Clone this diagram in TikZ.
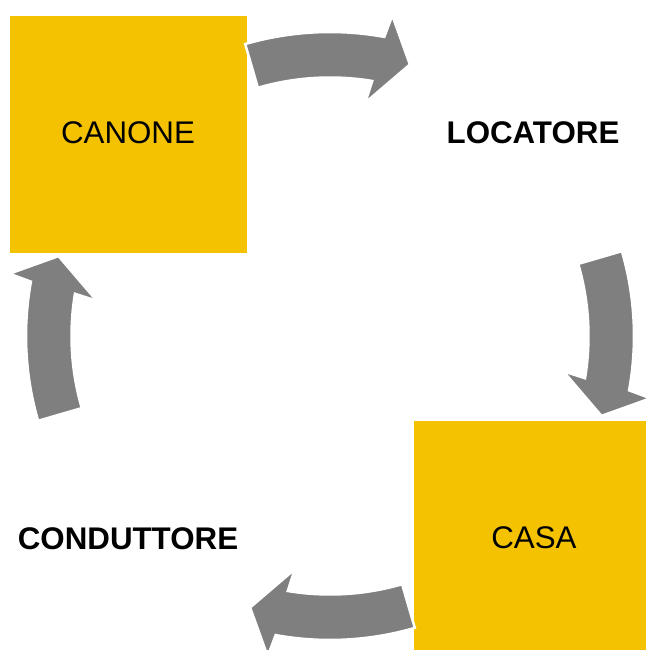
\documentclass[tikz,border=0pt]{standalone}
\usepackage{fontspec}
\setmainfont{Liberation Sans}
\definecolor{boxyellow}{HTML}{F4C200}
\definecolor{arrowgray}{HTML}{7F7F7F}
\tikzset{
  ybox/.style={fill=boxyellow, draw=none},
  lbl/.style={font=\fontsize{31.3}{36}\selectfont, text=black, inner sep=0pt},
  blbl/.style={lbl, font=\fontsize{31.3}{36}\selectfont\bfseries},
  blockarrow/.style={fill=arrowgray, draw=white, line width=2.5pt, line join=miter}
}
\begin{document}
\begin{tikzpicture}[x=1pt,y=1pt]
\useasboundingbox (0,0) rectangle (645,650);
\coordinate (C) at (330,314);
% boxes
\path[ybox] (10,397) rectangle (247,634);
\path[ybox] (414,-8) rectangle (651,229);
\node[lbl] (canone) at (128,517.5) {CANONE};
\node[blbl] (locatore) at (533,517) {LOCATORE};
\node[lbl] (casa) at (534,112) {CASA};
\node[blbl] (conduttore) at (128,111) {CONDUTTORE};
% curved block arrows
\foreach \r in {0,-90,-180,-270}{
  \begin{scope}[shift={(C)}, rotate=\r]
    \draw[blockarrow] (106.2:304) arc[start angle=106.2, end angle=79.7, radius=304]
      -- (79:326.5) -- (73.6:283) -- (81.4:236) -- (80.6:258.5)
      arc[start angle=80.6, end angle=106.2, radius=258.5] -- cycle;
  \end{scope}
}
\end{tikzpicture}
\end{document}
